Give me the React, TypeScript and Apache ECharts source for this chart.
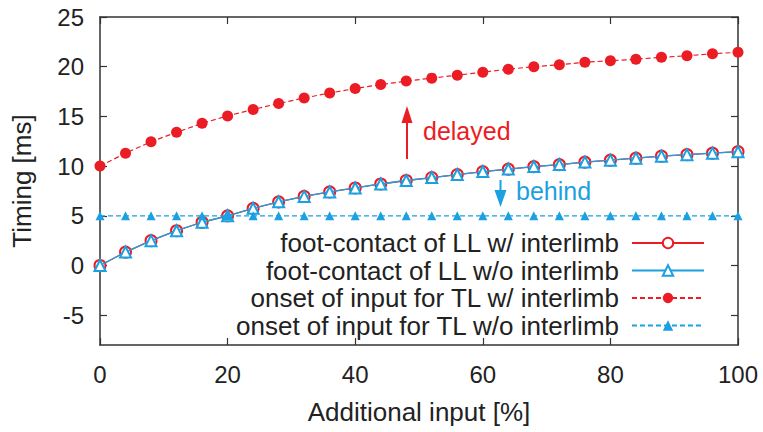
import React, { useEffect, useRef } from "react";
import * as echarts from "echarts";

// Additional input [%]
const inputPct = [0, 4, 8, 12, 16, 20, 24, 28, 32, 36, 40, 44, 48, 52, 56, 60, 64, 68, 72, 76, 80, 84, 88, 92, 96, 100];

// Foot-contact of LL (with and without interlimb coordination overlap)
const footWith = [0, 1.35, 2.5, 3.5, 4.35, 5.0, 5.75, 6.4, 6.95, 7.4, 7.8, 8.2, 8.55, 8.85, 9.15, 9.45, 9.7, 9.95, 10.15, 10.4, 10.6, 10.8, 11.0, 11.15, 11.3, 11.45];
const footWithout = [0, 1.35, 2.5, 3.5, 4.35, 5.0, 5.75, 6.4, 6.95, 7.4, 7.8, 8.2, 8.55, 8.85, 9.15, 9.45, 9.7, 9.95, 10.15, 10.4, 10.6, 10.8, 11.0, 11.15, 11.3, 11.45];
// Onset of input for TL
const onsetWith = [10, 11.3, 12.45, 13.4, 14.3, 15.05, 15.7, 16.3, 16.85, 17.35, 17.8, 18.2, 18.55, 18.85, 19.15, 19.45, 19.75, 20.0, 20.2, 20.45, 20.6, 20.75, 20.95, 21.1, 21.3, 21.45];
const onsetWithout = [5, 5, 5, 5, 5, 5, 5, 5, 5, 5, 5, 5, 5, 5, 5, 5, 5, 5, 5, 5, 5, 5, 5, 5, 5, 5];

// Tick positions
const xTicks = [0, 20, 40, 60, 80, 100];
const yTicks = [-5, 0, 5, 10, 15, 20, 25];

const seriesNames = [
  "foot-contact of LL w/ interlimb",
  "foot-contact of LL w/o interlimb",
  "onset of input for TL w/ interlimb",
  "onset of input for TL w/o interlimb",
];

const RED = "#ec1c24";
const BLUE = "#1ba1e2";
const FONT = "Liberation Sans, Arial, sans-serif";

const pairs = (ys: number[]) => inputPct.map((x, i) => [x, ys[i]]);

export default function App() {
  const ref = useRef<HTMLDivElement>(null);

  useEffect(() => {
    if (!ref.current) return;
    const chart = echarts.init(ref.current, undefined, { renderer: "svg" });

    const axisLine = { show: true, onZero: false, lineStyle: { color: "#333", width: 1.5 } };
    const tickStyle = { inside: true, length: 7, lineStyle: { color: "#333", width: 1.2 } };
    const tickFont = { fontFamily: FONT, fontSize: 24, color: "#222" };
    const titleFont = { fontFamily: FONT, fontSize: 26, color: "#222" };

    chart.setOption({
      animation: false,
      backgroundColor: "#fff",
      grid: { left: 100, right: 25, top: 17, bottom: 87, containLabel: false },
      xAxis: [
        {
          type: "value",
          min: 0,
          max: 100,
          position: "bottom",
          name: "Additional input [%]",
          nameLocation: "middle",
          nameGap: 54,
          nameTextStyle: titleFont,
          axisLine,
          axisTick: { ...tickStyle, show: true, customValues: xTicks },
          axisLabel: { ...tickFont, margin: 17, customValues: xTicks },
          splitLine: { show: false },
        },
        {
          type: "value",
          min: 0,
          max: 100,
          position: "top",
          axisLine,
          axisTick: { ...tickStyle, show: true, customValues: xTicks },
          axisLabel: { show: false },
          splitLine: { show: false },
        },
      ],
      yAxis: [
        {
          type: "value",
          min: -8,
          max: 25,
          position: "left",
          name: "Timing [ms]",
          nameLocation: "middle",
          nameGap: 65,
          nameTextStyle: titleFont,
          axisLine,
          axisTick: { ...tickStyle, show: true, customValues: yTicks },
          axisLabel: { ...tickFont, margin: 16, customValues: yTicks },
          splitLine: { show: false },
        },
        {
          type: "value",
          min: -8,
          max: 25,
          position: "right",
          axisLine,
          axisTick: { ...tickStyle, show: true, customValues: yTicks },
          axisLabel: { show: false },
          splitLine: { show: false },
        },
      ],
      legend: {
        orient: "vertical",
        align: "right",
        right: 58,
        top: 230,
        padding: 0,
        itemWidth: 72,
        itemHeight: 13,
        itemGap: 1.5,
        textStyle: { fontFamily: FONT, fontSize: 26, lineHeight: 26, color: "#222", padding: [0, 8, 0, 0] },
        data: seriesNames,
      },
      series: [
        {
          name: seriesNames[0],
          type: "line",
          data: pairs(footWith),
          symbol: "emptyCircle",
          symbolSize: 11,
          lineStyle: { color: RED, width: 1.3 },
          itemStyle: { color: RED, borderColor: RED, borderWidth: 1.2 },
          z: 2,
        },
        {
          name: seriesNames[1],
          type: "line",
          data: pairs(footWithout),
          symbol: "emptyTriangle",
          symbolSize: 11,
          lineStyle: { color: BLUE, width: 1.3 },
          itemStyle: { color: BLUE, borderColor: BLUE, borderWidth: 1.2 },
          z: 3,
        },
        {
          name: seriesNames[2],
          type: "line",
          data: pairs(onsetWith),
          symbol: "circle",
          symbolSize: 11,
          lineStyle: { color: RED, width: 1.2, type: [5, 3] },
          itemStyle: { color: RED },
          z: 4,
        },
        {
          name: seriesNames[3],
          type: "line",
          data: pairs(onsetWithout),
          symbol: "triangle",
          symbolSize: 9,
          lineStyle: { color: BLUE, width: 1.2, type: [5, 3] },
          itemStyle: { color: BLUE },
          z: 5,
        },
      ],
      graphic: [
        // "delayed" arrow pointing up
        { type: "line", shape: { x1: 407, y1: 159, x2: 407, y2: 118 }, style: { stroke: RED, lineWidth: 2 } },
        { type: "polygon", shape: { points: [[407, 106], [401.5, 123], [412.5, 123]] }, style: { fill: RED } },
        {
          type: "text",
          x: 423,
          y: 131,
          style: { text: "delayed", fill: RED, fontFamily: FONT, fontSize: 25, verticalAlign: "middle", align: "left" },
        },
        // "behind" arrow pointing down
        { type: "line", shape: { x1: 500.5, y1: 180, x2: 500.5, y2: 200 }, style: { stroke: BLUE, lineWidth: 2 } },
        { type: "polygon", shape: { points: [[500.5, 207], [494.5, 190], [506.5, 190]] }, style: { fill: BLUE } },
        {
          type: "text",
          x: 516,
          y: 191,
          style: { text: "behind", fill: BLUE, fontFamily: FONT, fontSize: 25, verticalAlign: "middle", align: "left" },
        },
      ],
    });

    return () => chart.dispose();
  }, []);

  return <div ref={ref} style={{ width: 763, height: 432, position: "absolute", left: 0, top: 0 }} />;
}
